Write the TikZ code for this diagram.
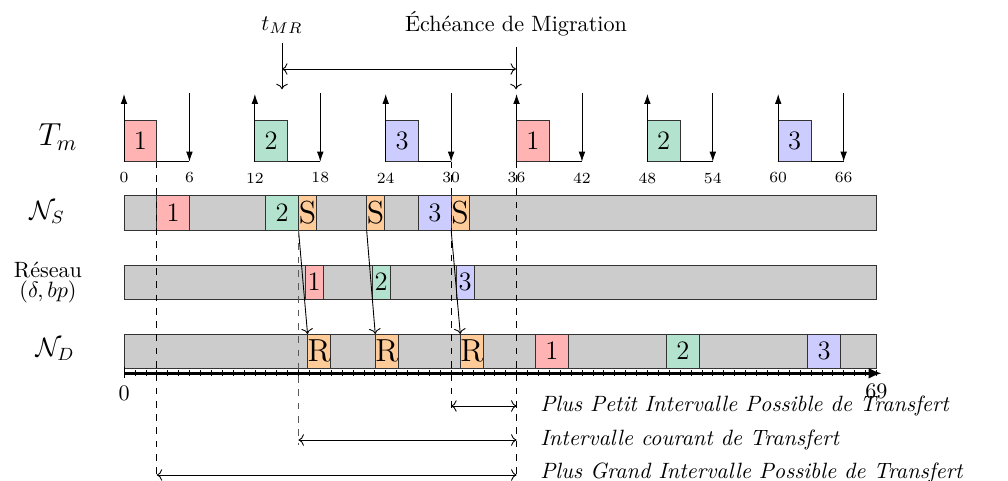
\documentclass[tikz,border=0pt]{standalone}
\usepackage{fontspec}
\usetikzlibrary{arrows.meta}
\definecolor{cred}{RGB}{255,179,179}
\definecolor{cgreen}{RGB}{179,226,207}
\definecolor{cblue}{RGB}{204,204,255}
\definecolor{corange}{RGB}{255,204,153}
\definecolor{cbar}{RGB}{204,204,204}
\newcommand{\segm}[8]{%
  \node[segbox, fill=#5, minimum width={(#2-(#1))*0.17302cm},
        minimum height={(#4-(#3))*0.015873cm}, font=#8]
        (#6) at ({((#1)+(#2))/2},{((#3)+(#4))/2}) {#7};}
\begin{document}
\begin{tikzpicture}[x=0.015873cm, y=-0.015873cm,
  segbox/.style={draw=black!80, inner sep=0pt, outer sep=0pt},
  filltip/.style={-{Latex[length=4.5pt,width=3pt]}},
  ticklbl/.style={font=\scriptsize, inner sep=1pt},
  dline/.style={dashed},
  axisline/.style={line width=1.3pt, -{Latex[length=6pt,width=5pt]}},
  itlbl/.style={anchor=base west, font=\itshape, inner sep=0pt}]
\useasboundingbox (0,0) rectangle (1008,481);

% left labels
\node[font=\Large] (lTm) at (58,137) {$T_m$};
\node[font=\large] (lNS) at (47,212) {$\mathcal{N}_S$};
\node[align=center, inner sep=0pt] (lRes) at (48,283) {Réseau\\[-3pt]$(\delta, bp)$};
\node[font=\large] (lND) at (55,349) {$\mathcal{N}_D$};

% top labels
\node (tmr) at (282,25) {$t_{MR}$};
\node (ech) at (516,24) {Échéance de Migration};
\coordinate (tmrA) at (282,42.7);
\coordinate (tmrB) at (282,89.3);
\coordinate (echA) at (516,46.7);
\coordinate (echB) at (516,89.3);
\coordinate (hA) at (282,69);
\coordinate (hB) at (516,69);
\draw[->] (tmrA) -- (tmrB);
\draw[->] (echA) -- (echB);
\draw[<->] (hA) -- (hB);

\begin{scope}[xshift=1.9683cm, x=0.17302cm]
% T_m row
\foreach \r/\k/\c in {0/1/cred,12/2/cgreen,24/3/cblue,36/1/cred,48/2/cgreen,60/3/cblue}{
  \pgfmathtruncatemacro{\rd}{\r+6}
  \segm{\r}{\r+3}{120}{161.7}{\c}{tm\r}{\k}{\large}
  \coordinate (rel\r) at (\r,94);
  \coordinate (dl\r) at (\rd,161.7);
  \coordinate (dltop\r) at (\rd,93);
  \draw[filltip] (tm\r.south west) -- (rel\r);
  \draw (tm\r.south east) -- (dl\r);
  \draw[filltip] (dltop\r) -- (dl\r);
  \node[ticklbl] (lr\r) at (\r,178) {\r};
  \node[ticklbl] (ld\r) at (\rd,178) {\rd};
}

% bars
\segm{0}{69}{195.7}{230}{cbar}{barS}{}{}
\segm{0}{69}{265}{299}{cbar}{barR}{}{}
\segm{0}{69}{334}{368.3}{cbar}{barD}{}{}

% N_S
\segm{3}{6}{195.7}{230}{cred}{ns1}{1}{\large}
\segm{13}{16}{195.7}{230}{cgreen}{ns2}{2}{\large}
\segm{16}{17.65}{195.7}{230}{corange}{nss1}{S}{\Large}
\segm{22.25}{23.9}{195.7}{230}{corange}{nss2}{S}{\Large}
\segm{27}{30}{195.7}{230}{cblue}{ns3}{3}{\large}
\segm{30}{31.65}{195.7}{230}{corange}{nss3}{S}{\Large}

% Reseau
\segm{16.6}{18.25}{265}{299}{cred}{rs1}{1}{\large}
\segm{22.75}{24.4}{265}{299}{cgreen}{rs2}{2}{\large}
\segm{30.45}{32.1}{265}{299}{cblue}{rs3}{3}{\large}

% N_D
\segm{17.06}{18.71}{334}{368.3}{corange}{ndr1}{R}{\Large}
\segm{23.27}{24.92}{334}{368.3}{corange}{ndr2}{R}{\Large}
\segm{31.07}{32.72}{334}{368.3}{corange}{ndr3}{R}{\Large}
\segm{37.75}{40.75}{334}{368.3}{cred}{nd1}{1}{\large}
\segm{49.75}{52.75}{334}{368.3}{cgreen}{nd2}{2}{\large}
\segm{62.7}{65.7}{334}{368.3}{cblue}{nd3}{3}{\large}

% migration arrows
\draw[->] (nss1.south west) -- (ndr1.north west);
\draw[->] (nss2.south west) -- (ndr2.north west);
\draw[->] (nss3.south west) -- (ndr3.north west);

% axis
\coordinate (ax0) at (0,373.3);
\coordinate (axE) at (69.5,373.3);
\draw[axisline] (ax0) -- (axE);
\foreach \i in {1,...,69}{\draw[line width=0.3pt] (\i,370.5) -- (\i,376);}
\draw[line width=0.3pt] (0,367) -- (0,378);
\node (lab0) at (0,393) {0};
\node (lab69) at (69,391) {69};

% dashed guides
\coordinate (d3a) at (3,161.7);  \coordinate (d3b) at (3,481);
\coordinate (d16a) at (16,230);  \coordinate (d16b) at (16,445);
\coordinate (d30a) at (30,161.7); \coordinate (d30b) at (30,409);
\coordinate (d36a) at (36,161.7); \coordinate (d36b) at (36,481);
\draw[dline] (d3a) -- (d3b);
\draw[dline, black!65, line width=0.5pt] (d16a) -- (d16b);
\draw[dline] (d30a) -- (d30b);
\draw[dline] (d36a) -- (d36b);

% interval arrows
\coordinate (i1a) at (30,406); \coordinate (i1b) at (36,406);
\coordinate (i2a) at (16,440); \coordinate (i2b) at (36,440);
\coordinate (i3a) at (3,475);  \coordinate (i3b) at (36,475);
\draw[<->] (i1a) -- (i1b);
\draw[<->] (i2a) -- (i2b);
\draw[<->] (i3a) -- (i3b);
\end{scope}

\node[itlbl] (txt1) at (540,412) {Plus Petit Intervalle Possible de Transfert};
\node[itlbl] (txt2) at (540,446) {Intervalle courant de Transfert};
\node[itlbl] (txt3) at (540,478.5) {Plus Grand Intervalle Possible de Transfert};
\end{tikzpicture}
\end{document}
